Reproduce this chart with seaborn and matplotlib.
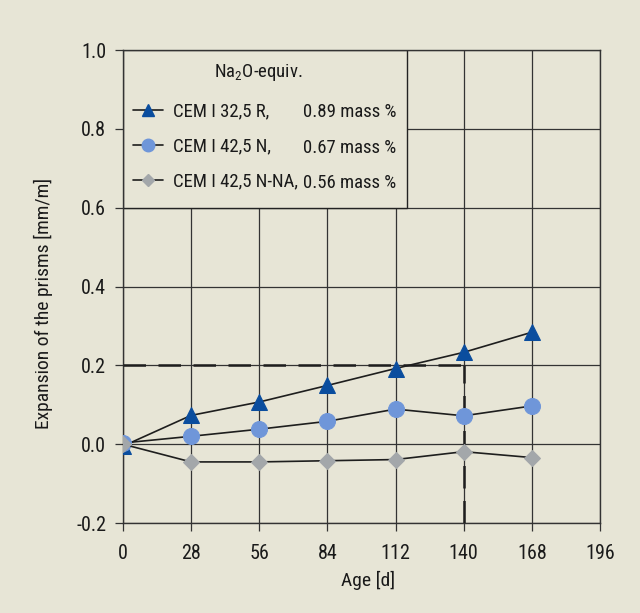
import matplotlib
matplotlib.use("Agg")
import matplotlib.pyplot as plt
import seaborn as sns
import pandas as pd
from matplotlib.patches import Rectangle
from matplotlib.lines import Line2D

# ---- data ----
age_days = [0, 28, 56, 84, 112, 140, 168]
cem_325r = [-0.005, 0.073, 0.107, 0.149, 0.192, 0.233, 0.284]
cem_425n = [0.003, 0.020, 0.038, 0.058, 0.089, 0.072, 0.097]
cem_425n_na = [0.0, -0.045, -0.045, -0.042, -0.039, -0.019, -0.034]
series_names = ["CEM I 32,5 R,", "CEM I 42,5 N,", "CEM I 42,5 N-NA,"]
na2o_values = ["0.89 mass %", "0.67 mass %", "0.56 mass %"]
x_ticks = [0, 28, 56, 84, 112, 140, 168, 196]
y_ticks = [-0.2, 0.0, 0.2, 0.4, 0.6, 0.8, 1.0]
limit_expansion = 0.2
limit_age = 140

BG = "#e7e5d6"
FONT = ["Roboto Condensed", "DejaVu Sans"]

sns.set_theme(style="ticks")
plt.rcParams["font.family"] = FONT
plt.rcParams["mathtext.fontset"] = "custom"
plt.rcParams["mathtext.rm"] = "Roboto Condensed"
plt.rcParams["mathtext.it"] = "Roboto Condensed"

fig = plt.figure(figsize=(6.4, 6.13), dpi=100, facecolor=BG)
ax = fig.add_axes([0.192, 0.1468, 0.7455, 0.7716])
ax.set_facecolor(BG)

df = pd.DataFrame({"age": age_days, "a": cem_325r, "b": cem_425n, "c": cem_425n_na})

line_kw = dict(color="#1e1e1e", linewidth=1.2, zorder=4)
sns.lineplot(data=df, x="age", y="a", marker="^", markersize=11,
             markerfacecolor="#0a4d9e", markeredgecolor="#0a4d9e", ax=ax, **line_kw)
sns.lineplot(data=df, x="age", y="b", marker="o", markersize=11.5,
             markerfacecolor="#6f96d9", markeredgecolor="#6f96d9", ax=ax, **line_kw)
sns.lineplot(data=df, x="age", y="c", marker="D", markersize=8,
             markerfacecolor="#a3a7aa", markeredgecolor="#a3a7aa", ax=ax, **line_kw)

# limit lines
ax.hlines(limit_expansion, 0, limit_age, colors="#1e1e1e", linewidth=1.8,
          linestyles=(0, (9, 5)), zorder=3)
ax.vlines(limit_age, y_ticks[0], limit_expansion, colors="#1e1e1e", linewidth=1.8,
          linestyles=(0, (9, 5)), zorder=3)

ax.set_xlim(x_ticks[0], x_ticks[-1])
ax.set_ylim(y_ticks[0], y_ticks[-1])
ax.set_xticks(x_ticks)
ax.set_yticks(y_ticks)
ax.set_yticklabels([f"{v:.1f}" for v in y_ticks])
ax.grid(True, color="#333333", linewidth=0.9)
ax.set_axisbelow(True)
for s in ax.spines.values():
    s.set_color("#333333")
    s.set_linewidth(1.0)
ax.tick_params(axis="both", direction="out", length=6, width=0.9, color="#333333",
               labelsize=14.5, labelcolor="#1a1a1a")
ax.tick_params(axis="x", pad=9)
ax.tick_params(axis="y", pad=6)

ax.set_xlabel("Age [d]", fontsize=14, color="#1a1a1a")
ax.set_ylabel("Expansion of the prisms [mm/m]", fontsize=14, color="#1a1a1a")
ax.xaxis.set_label_coords(0.514, -0.102)
ax.yaxis.set_label_coords(-0.147, 0.465)

# legend box
box = Rectangle((0, 0.6667), 0.595, 0.3333, transform=ax.transAxes,
                facecolor=BG, edgecolor="#222222", linewidth=1.0, zorder=2)
ax.add_patch(box)

handles = [
    Line2D([], [], color="#1e1e1e", lw=1.2, marker="^", markersize=9,
           markerfacecolor="#0a4d9e", markeredgecolor="#0a4d9e"),
    Line2D([], [], color="#1e1e1e", lw=1.2, marker="o", markersize=9,
           markerfacecolor="#6f96d9", markeredgecolor="#6f96d9"),
    Line2D([], [], color="#1e1e1e", lw=1.2, marker="D", markersize=6,
           markerfacecolor="#a3a7aa", markeredgecolor="#a3a7aa"),
]
leg = ax.legend(handles, series_names, loc="upper left", bbox_to_anchor=(0.021, 0.889),
                frameon=False, fontsize=13.5, handlelength=1.6, handletextpad=0.55,
                labelspacing=0.9, borderpad=0, borderaxespad=0)
leg.set_zorder(5)
for t in leg.get_texts():
    t.set_color("#1a1a1a")

ax.text(0.283, 0.953, r"Na$_2$O-equiv.", transform=ax.transAxes, ha="center",
        va="center", fontsize=13.5, color="#1a1a1a", zorder=6)
for yfrac, txt in zip([0.869, 0.793, 0.719], na2o_values):
    ax.text(0.377, yfrac, txt, transform=ax.transAxes, ha="left", va="center",
            fontsize=13.5, color="#1a1a1a", zorder=6)

fig.savefig("out.png", dpi=100, facecolor=BG)
